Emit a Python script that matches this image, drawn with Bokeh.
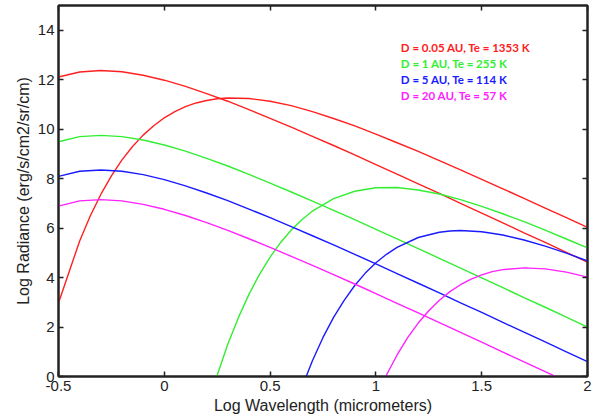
from bokeh.plotting import figure
from bokeh.models import LinearAxis, FixedTicker, Range1d, Label
from bokeh.embed import file_html
from bokeh.resources import INLINE

# ---- data ----
log_wl = [-0.5, -0.4, -0.3, -0.2, -0.1, 0.0, 0.1, 0.2, 0.3, 0.4, 0.5, 0.6, 0.7,
          0.8, 0.9, 1.0, 1.1, 1.2, 1.3, 1.4, 1.5, 1.6, 1.7, 1.8, 1.9, 2.0]

# reflected sunlight
refl_red = [12.11, 12.31, 12.37, 12.32, 12.18, 11.98, 11.73, 11.44, 11.13, 10.79, 10.44, 10.08, 9.71,
            9.34, 8.96, 8.57, 8.18, 7.79, 7.40, 7.00, 6.61, 6.21, 5.81, 5.42, 5.02, 4.62]
refl_green = [9.49, 9.70, 9.75, 9.70, 9.56, 9.36, 9.11, 8.82, 8.51, 8.17, 7.82, 7.46, 7.09,
              6.72, 6.34, 5.95, 5.56, 5.17, 4.78, 4.38, 3.99, 3.59, 3.19, 2.80, 2.40, 2.00]
refl_blue = [8.09, 8.30, 8.35, 8.30, 8.16, 7.96, 7.71, 7.42, 7.11, 6.77, 6.42, 6.06, 5.69,
             5.32, 4.94, 4.55, 4.16, 3.77, 3.38, 2.98, 2.59, 2.19, 1.79, 1.40, 1.00, 0.60]
refl_magenta = [6.89, 7.10, 7.15, 7.10, 6.96, 6.76, 6.51, 6.22, 5.91, 5.57, 5.22, 4.86, 4.49,
                4.12, 3.74, 3.35, 2.96, 2.57, 2.18, 1.78, 1.39, 0.99, 0.59, 0.20, -0.20, -0.60]

# thermal emission
therm_red_x = [-0.5, -0.4, -0.35, -0.3, -0.25, -0.2, -0.15, -0.1, -0.05, 0.0, 0.05, 0.1, 0.15,
               0.2, 0.25, 0.3, 0.4, 0.5, 0.6, 0.7, 0.8, 0.9, 1.0, 1.1, 1.2, 1.3, 1.4,
               1.5, 1.6, 1.7, 1.8, 1.9, 2.0]
therm_red = [2.97, 5.48, 6.49, 7.36, 8.11, 8.76, 9.30, 9.76, 10.14, 10.46, 10.71, 10.91, 11.06,
             11.16, 11.23, 11.26, 11.24, 11.13, 10.95, 10.71, 10.43, 10.13, 9.80, 9.45, 9.10, 8.73, 8.35,
             7.97, 7.59, 7.20, 6.81, 6.42, 6.03]
therm_green_x = [0.2, 0.25, 0.3, 0.35, 0.4, 0.45, 0.5, 0.55, 0.6, 0.65, 0.7, 0.8, 0.9, 1.0,
                 1.1, 1.2, 1.3, 1.4, 1.5, 1.6, 1.7, 1.8, 1.9, 2.0]
therm_green = [-1.38, 0.05, 1.30, 2.38, 3.32, 4.13, 4.83, 5.42, 5.92, 6.34, 6.69, 7.19, 7.49, 7.63,
               7.64, 7.54, 7.38, 7.15, 6.88, 6.58, 6.26, 5.92, 5.56, 5.20]
therm_blue_x = [0.6, 0.65, 0.7, 0.75, 0.8, 0.85, 0.9, 0.95, 1.0, 1.05, 1.1, 1.2, 1.3, 1.35,
                1.4, 1.5, 1.6, 1.7, 1.8, 1.9, 2.0]
therm_blue = [-1.69, -0.45, 0.64, 1.58, 2.39, 3.08, 3.68, 4.18, 4.60, 4.94, 5.22, 5.62, 5.83, 5.88,
              5.90, 5.85, 5.72, 5.52, 5.27, 4.99, 4.67]
therm_magenta_x = [1.0, 1.05, 1.1, 1.15, 1.2, 1.25, 1.3, 1.35, 1.4, 1.45, 1.5, 1.55, 1.6,
                   1.7, 1.8, 1.9, 2.0]
therm_magenta = [-0.89, 0.06, 0.87, 1.57, 2.16, 2.66, 3.08, 3.43, 3.71, 3.94, 4.11, 4.24, 4.32,
                 4.39, 4.35, 4.22, 4.02]

legend_labels = ["D = 0.05 AU, Te = 1353 K", "D = 1 AU, Te = 255 K",
                 "D = 5 AU, Te = 114 K", "D = 20 AU, Te = 57 K"]
colors = ["#ff2020", "#33ee33", "#1a1aff", "#ff22ff"]

x_ticks = [-0.5, 0, 0.5, 1, 1.5, 2]
x_tick_labels = ["-0.5", "0", "0.5", "1", "1.5", "2"]
y_ticks = [0, 2, 4, 6, 8, 10, 12, 14]
y_tick_labels = ["0", "2", "4", "6", "8", "10", "12", "14"]

# ---- figure ----
p = figure(width=592, height=420, output_backend="svg", toolbar_location=None,
           x_range=Range1d(-0.5, 2), y_range=Range1d(0, 15),
           min_border_left=58, min_border_right=5, min_border_top=5, min_border_bottom=44)
p.xgrid.visible = False
p.ygrid.visible = False
p.outline_line_color = "#222222"
p.outline_line_width = 2

FONT = "Liberation Sans"
TXT = "#222222"

def style_axis(ax, ticks, labels, show_labels=True):
    ax.ticker = FixedTicker(ticks=ticks)
    ax.minor_tick_line_color = None
    ax.major_tick_in = 5
    ax.major_tick_out = 0
    ax.major_tick_line_color = "#222222"
    ax.major_tick_line_width = 1.5
    ax.axis_line_color = "#222222"
    ax.axis_line_width = 2
    ax.major_label_text_font = FONT
    if show_labels:
        ax.major_label_overrides = {t: l for t, l in zip(ticks, labels)}
        ax.major_label_text_color = TXT
        ax.major_label_text_font_size = "15px"
        ax.major_label_standoff = 4
    else:
        ax.major_label_text_color = None
        ax.major_label_text_font_size = "0px"
        ax.major_label_standoff = 0

style_axis(p.xaxis[0], x_ticks, x_tick_labels)
style_axis(p.yaxis[0], y_ticks, y_tick_labels)
p.xaxis[0].axis_label = "Log Wavelength (micrometers)"
p.yaxis[0].axis_label = "Log Radiance (erg/s/cm2/sr/cm)"
for ax in (p.xaxis[0], p.yaxis[0]):
    ax.axis_label_text_font = FONT
    ax.axis_label_text_font_size = "16px"
    ax.axis_label_text_font_style = "normal"
    ax.axis_label_text_color = TXT
    ax.axis_label_standoff = 3

top_ax = LinearAxis()
style_axis(top_ax, x_ticks, x_tick_labels, show_labels=False)
p.add_layout(top_ax, "above")
right_ax = LinearAxis()
style_axis(right_ax, y_ticks, y_tick_labels, show_labels=False)
p.add_layout(right_ax, "right")

refl = [refl_red, refl_green, refl_blue, refl_magenta]
therm = [(therm_red_x, therm_red), (therm_green_x, therm_green),
         (therm_blue_x, therm_blue), (therm_magenta_x, therm_magenta)]
for c, ry, (tx, ty) in zip(colors, refl, therm):
    p.line(log_wl, ry, line_color=c, line_width=1.4)
    p.line(tx, ty, line_color=c, line_width=1.4)

legend_y = [13.29, 12.64, 11.99, 11.35]
for lab, c, ly in zip(legend_labels, colors, legend_y):
    p.add_layout(Label(x=1.118, y=ly, text=lab, text_color=c, text_font="Lato",
                       text_font_style="bold", text_font_size="11.5px",
                       text_baseline="middle", text_align="left"))

open("out.html", "w").write(file_html(p, INLINE))
